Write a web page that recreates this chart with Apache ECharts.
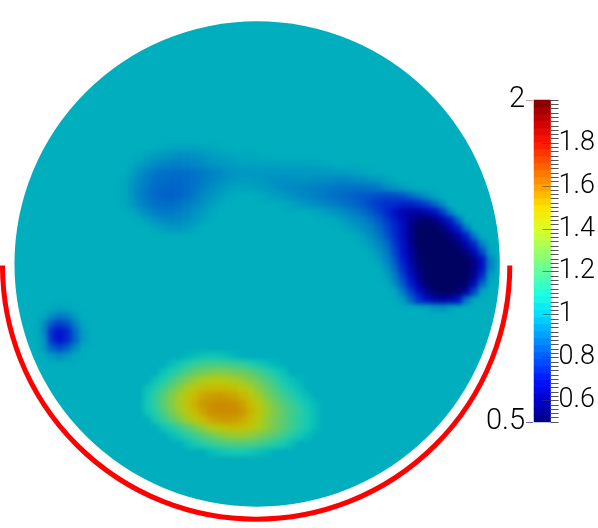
<!DOCTYPE html>
<html>
<head>
<meta charset="utf-8">
<style>html,body{margin:0;padding:0;background:#fff}#c{width:598px;height:528px}</style>
<script src="https://cdn.jsdelivr.net/npm/echarts@6/dist/echarts.min.js"></script>
</head>
<body>
<div id="c"></div>
<script>
const backgroundValue = 0.98;
const southBlob = [
[44,23,[1.0,1.03,1.05,1.06,1.05,1.03,1.0]],
[45,21,[1.02,1.07,1.11,1.15,1.17,1.18,1.18,1.17,1.16,1.14,1.11,1.07,1.03,1.0]],
[46,20,[1.05,1.1,1.15,1.2,1.24,1.27,1.29,1.3,1.29,1.27,1.25,1.22,1.18,1.14,1.09,1.04]],
[47,19,[1.05,1.1,1.17,1.23,1.29,1.34,1.38,1.4,1.4,1.39,1.37,1.34,1.3,1.25,1.2,1.15,1.09,1.04,1.0]],
[48,18,[1.04,1.1,1.17,1.24,1.31,1.38,1.44,1.47,1.49,1.49,1.48,1.46,1.42,1.37,1.31,1.25,1.19,1.13,1.08,1.03]],
[49,18,[1.07,1.14,1.22,1.3,1.37,1.44,1.5,1.54,1.56,1.57,1.56,1.54,1.5,1.43,1.36,1.29,1.23,1.18,1.13,1.08,1.03]],
[50,18,[1.08,1.15,1.23,1.31,1.38,1.45,1.52,1.57,1.59,1.6,1.6,1.59,1.55,1.49,1.41,1.34,1.28,1.22,1.17,1.12,1.07,1.02]],
[51,18,[1.06,1.12,1.2,1.28,1.35,1.42,1.49,1.55,1.59,1.6,1.6,1.6,1.57,1.51,1.43,1.36,1.3,1.24,1.19,1.14,1.09,1.03]],
[52,19,[1.08,1.15,1.22,1.29,1.36,1.43,1.49,1.54,1.56,1.57,1.56,1.53,1.47,1.4,1.34,1.28,1.23,1.18,1.13,1.09,1.03]],
[53,20,[1.05,1.1,1.16,1.22,1.28,1.34,1.39,1.43,1.46,1.47,1.46,1.43,1.38,1.33,1.28,1.23,1.18,1.13,1.08,1.02]],
[54,21,[1.02,1.07,1.12,1.17,1.22,1.26,1.3,1.33,1.34,1.34,1.32,1.29,1.25,1.21,1.17,1.12,1.07,1.02]],
[55,23,[1.04,1.08,1.12,1.15,1.18,1.2,1.21,1.21,1.2,1.18,1.15,1.12,1.08,1.03]],
[56,26,[1.02,1.05,1.07,1.08,1.08,1.06,1.04,1.01]]
];
const westBlob = [
[38,6,[.975,.96,.97]],
[39,5,[.97,.92,.89,.9,.95]],
[40,5,[.92,.82,.78,.82,.9,.97]],
[41,5,[.92,.74,.7,.74,.86,.95]],
[42,5,[.94,.76,.7,.75,.85,.95]],
[43,5,[.94,.84,.8,.84,.92]],
[44,5,[.975,.94,.92,.94,.97]]
];
const northTrail = [
[18,19,[.975,.97,.965,.96,.96,.96,.965,.97,.975]],
[19,17,[.975,.96,.945,.935,.925,.92,.92,.925,.935,.945,.955,.96,.965,.97,.97,.975]],
[20,16,[.97,.95,.93,.91,.9,.895,.895,.9,.905,.915,.93,.94,.945,.95,.955,.955,.955,.955,.955,.96,.96,.96,.96,.965,.97,.975,.98]],
[21,16,[.955,.925,.9,.88,.87,.865,.86,.865,.875,.885,.9,.91,.925,.935,.94,.94,.945,.94,.94,.94,.94,.94,.94,.94,.945,.945,.95,.95,.955,.965,.975]],
[22,15,[.975,.94,.91,.885,.865,.86,.855,.855,.86,.87,.885,.9,.915,.93,.94,.945,.945,.94,.93,.925,.925,.925,.925,.925,.92,.915,.915,.91,.91,.915,.92,.93,.94,.955,.97,.98]],
[23,15,[.97,.935,.9,.875,.86,.85,.845,.85,.86,.875,.895,.915,.935,.95,.96,.96,.955,.95,.94,.93,.92,.91,.905,.9,.895,.89,.88,.875,.87,.87,.87,.875,.885,.91,.93,.95,.97,.98]],
[24,15,[.97,.94,.9,.875,.855,.845,.84,.85,.865,.885,.91,.93,.95,.965,.975,.98,.98,.975,.965,.95,.94,.93,.915,.905,.895,.88,.87,.86,.85,.84,.83,.82,.81,.8,.8,.82,.85,.89,.93,.97]],
[25,15,[.975,.945,.91,.885,.865,.86,.86,.87,.885,.905,.925,.95,.965,.98]],
[26,16,[.97,.94,.91,.89,.88,.88,.89,.905,.925,.945,.965,.98]],
[27,17,[.975,.95,.925,.91,.905,.91,.92,.94,.96,.975]],
[28,18,[.98,.965,.95,.94,.94,.95,.965,.98]]
];
const eastBlob = [
[25,35,[.975,.96,.945,.93,.92,.91,.895,.88,.865,.85,.83,.8,.77,.75,.75,.73,.73,.75,.79,.85,.92,.98]],
[26,39,[.97,.955,.94,.925,.905,.885,.86,.83,.79,.74,.69,.63,.6,.6,.62,.68,.77,.9,.98]],
[27,41,[.975,.96,.94,.92,.9,.87,.83,.78,.72,.65,.58,.53,.52,.55,.62,.72,.86,.98]],
[28,43,[.965,.945,.925,.9,.86,.8,.74,.66,.57,.5,.5,.5,.54,.62,.72,.88,.98]],
[29,44,[.975,.95,.92,.88,.82,.75,.67,.57,.5,.5,.5,.5,.54,.61,.72,.88,.98]],
[30,45,[.97,.945,.91,.86,.78,.69,.58,.5,.5,.5,.5,.5,.54,.62,.74,.9]],
[31,46,[.965,.935,.885,.8,.7,.6,.51,.5,.5,.5,.5,.5,.55,.64,.8,.96]],
[32,46,[.98,.955,.905,.83,.72,.61,.52,.5,.5,.5,.5,.5,.5,.56,.68,.9]],
[33,47,[.975,.93,.86,.75,.64,.54,.5,.5,.5,.5,.5,.5,.56,.68,.9]],
[34,48,[.955,.89,.79,.68,.57,.5,.5,.5,.5,.5,.5,.58,.74,.95]],
[35,49,[.92,.83,.72,.6,.52,.5,.5,.5,.5,.52,.65,.85]],
[36,49,[.97,.89,.79,.68,.58,.52,.5,.5,.52,.6,.8,.97]],
[37,50,[.95,.86,.76,.68,.62,.6,.62,.7,.88]],
[38,53,[.97,.94,.93,.96]]
];
const tickLabels = [0.6,0.8,1,1.2,1.4,1.6,1.8];
const barValues = [.516,.549,.582,.614,.647,.679,.712,.745,.777,.81,.842,.875,.908,.94,.973,1.005,1.038,1.071,1.103,1.136,1.168,1.201,1.234,1.266,1.299,1.332,1.364,1.397,1.429,1.462,1.495,1.527,1.56,1.592,1.625,1.658,1.69,1.723,1.755,1.788,1.821,1.853,1.886,1.918,1.951,1.984];
const colorStops = ['#00007f','#0000cd','#0017ff','#005aff','#009dff','#00dfff','#20ffdf','#5fffa0','#9dff62','#daff25','#ffe300','#ffa000','#ff5c00','#ff1700','#cd0000','#7f0000'];
const litStops = ['#000060','#0000a4','#0012cc','#0048cc','#0084c4','#00b8bb','#1accb2','#4ccc80','#7ecc4e','#b4cc10','#ccb800','#cc8c00','#cc4a00','#cc1200','#a40000','#660000'];
const discShape = [0,0,243.5,backgroundValue];
const arcShape = [-1,1.5,254.5];

const cols=[],rows=[];
for(let i=0;i<75;i++)cols.push(i);
for(let j=0;j<66;j++)rows.push(j);
const minorTicks=[];
for(let k=25;k<=100;k++)minorTicks.push(k/50);
const heat=[];
[southBlob,westBlob,northTrail,eastBlob].forEach(p=>p.forEach(r=>r[2].forEach((v,n)=>heat.push([r[1]+n,r[0],v]))));
const barCells=barValues.map((v,n)=>[0,n,v]);

const labelFont={fontFamily:'Roboto',fontWeight:300,fontSize:27,color:'#000'};
const endFont={...labelFont,fontSize:29};
const hidden={show:false};
const chart=echarts.init(document.getElementById('c'),null,{renderer:'canvas'});
chart.setOption({
  animation:false,
  backgroundColor:'#fff',
  grid:[
    {left:0,top:0,width:600,height:528},
    {left:0,top:0,width:600,height:528},
    {left:534,top:100,width:18,height:322}
  ],
  xAxis:[
    {type:'category',gridIndex:0,data:cols,show:false},
    {type:'value',gridIndex:1,min:-258,max:342,show:false},
    {type:'category',gridIndex:2,data:[0],show:false}
  ],
  yAxis:[
    {type:'category',gridIndex:0,data:rows,inverse:true,show:false},
    {type:'value',gridIndex:1,min:-264,max:264,inverse:true,show:false},
    {type:'category',gridIndex:2,data:barValues.map((v,n)=>n),show:false},
    {type:'value',gridIndex:2,z:5,min:0.5,max:2,position:'right',splitLine:hidden,axisLine:hidden,
      axisTick:{show:true,length:8,customValues:minorTicks,lineStyle:{color:'#555',width:1}},
      axisLabel:{show:true,margin:8,customValues:tickLabels,formatter:v=>String(v),...labelFont}},
    {type:'value',gridIndex:2,z:5,min:0.5,max:2,position:'right',splitLine:hidden,axisLine:hidden,
      axisTick:{show:true,inside:true,length:8,customValues:tickLabels,lineStyle:{color:'rgba(60,60,60,.55)',width:1}},
      axisLabel:hidden},
    {type:'value',gridIndex:2,z:5,min:0.5,max:2,position:'left',offset:1,splitLine:hidden,axisLine:hidden,
      axisTick:{show:true,length:7,customValues:[2],lineStyle:{color:'#d9a0a0',width:1}},
      axisLabel:{show:true,margin:8,customValues:[2],formatter:v=>String(v),...endFont}},
    {type:'value',gridIndex:2,z:5,min:0.5,max:2,position:'left',offset:1,splitLine:hidden,axisLine:hidden,
      axisTick:{show:true,length:7,customValues:[0.5],lineStyle:{color:'#6a6ac0',width:1}},
      axisLabel:{show:true,margin:8,customValues:[0.5],formatter:v=>String(v),...endFont}}
  ],
  visualMap:[
    {type:'continuous',show:false,min:0.5,max:2,seriesIndex:[0,1],inRange:{color:litStops}},
    {type:'continuous',show:false,min:0.5,max:2,seriesIndex:[3],inRange:{color:colorStops}}
  ],
  series:[
    {type:'custom',xAxisIndex:1,yAxisIndex:1,silent:true,z:1,clip:false,data:[discShape],
      renderItem:(p,api)=>{
        const c=api.coord([api.value(0),api.value(1)]);
        return {type:'circle',shape:{cx:c[0],cy:c[1],r:api.coord([api.value(0)+api.value(2),api.value(1)])[0]-c[0]},style:{fill:api.visual('color')}};
      }},
    {type:'heatmap',xAxisIndex:0,yAxisIndex:0,silent:true,zlevel:1,progressive:0,data:heat,itemStyle:{borderWidth:0}},
    {type:'custom',xAxisIndex:1,yAxisIndex:1,silent:true,z:2,clip:false,data:[arcShape],
      renderItem:(p,api)=>{
        const c=api.coord([api.value(0),api.value(1)]);
        return {type:'arc',shape:{cx:c[0],cy:c[1],r:api.coord([api.value(0)+api.value(2),api.value(1)])[0]-c[0],startAngle:0,endAngle:Math.PI,clockwise:true},
          style:{fill:null,stroke:'#ff0000',lineWidth:5}};
      }},
    {type:'heatmap',xAxisIndex:2,yAxisIndex:2,silent:true,z:1,progressive:0,data:barCells,itemStyle:{borderWidth:0}}
  ]
});
document.querySelectorAll('#c canvas').forEach((cv,i)=>{ if(i===1) cv.style.filter='blur(2.5px)'; });
</script>
</body>
</html>
